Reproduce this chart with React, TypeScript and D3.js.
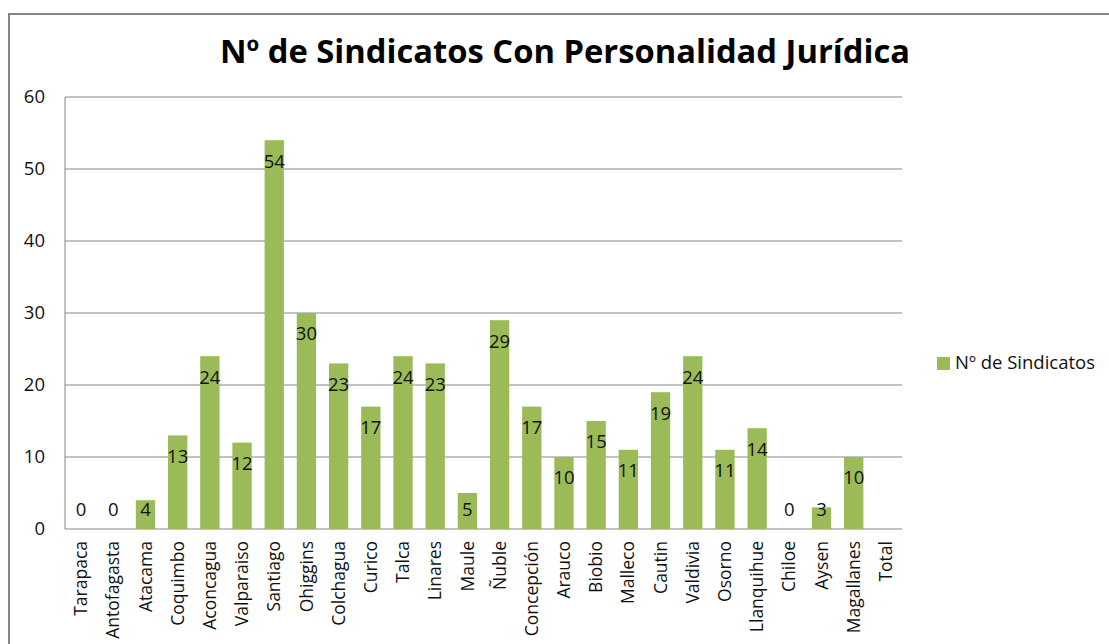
import React from "react";
import * as d3 from "d3";

const categories = [
  "Tarapaca", "Antofagasta", "Atacama", "Coquimbo", "Aconcagua", "Valparaiso",
  "Santiago", "Ohiggins", "Colchagua", "Curico", "Talca", "Linares", "Maule",
  "Ñuble", "Concepción", "Arauco", "Biobio", "Malleco", "Cautin", "Valdivia",
  "Osorno", "Llanquihue", "Chiloe", "Aysen", "Magallanes", "Total",
];
const values: (number | null)[] = [
  0, 0, 4, 13, 24, 12, 54, 30, 23, 17, 24, 23, 5, 29, 17, 10, 15, 11, 19, 24,
  11, 14, 0, 3, 10, null,
];
const yTicks = [0, 10, 20, 30, 40, 50, 60];
const title = "Nº de Sindicatos Con Personalidad Jurídica";
const seriesName = "Nº de Sindicatos";

const W = 1109;
const H = 644;
const plot = { left: 65, right: 902, top: 97, bottom: 529 };
const barColor = "#9BBB59";
const gridColor = "#868686";
const font = "'Open Sans', 'Noto Sans', sans-serif";

export default function App() {
  const x = d3
    .scaleBand<string>()
    .domain(categories)
    .range([plot.left, plot.right])
    .paddingInner(0.4)
    .paddingOuter(0.2);
  const y = d3.scaleLinear().domain([0, 60]).range([plot.bottom, plot.top]);

  return (
    <svg
      width={W}
      height={H}
      style={{ position: "absolute", left: 0, top: 0, background: "#fff" }}
    >
      <rect x={9} y={14} width={W + 10} height={H + 10} fill="#fff" stroke={gridColor} strokeWidth={2} />
      <text
        x={565}
        y={63}
        textAnchor="middle"
        fontFamily={font}
        fontWeight="bold"
        fontSize={32}
        textLength={690}
        lengthAdjust="spacingAndGlyphs"
        fill="#000"
      >
        {title}
      </text>
      {yTicks.map((t) => (
        <g key={t}>
          <line x1={plot.left} x2={plot.right} y1={y(t)} y2={y(t)} stroke={gridColor} strokeWidth={1} />
          <text
            x={45}
            y={y(t)}
            dy="0.35em"
            textAnchor="end"
            fontFamily={font}
            fontSize={18.5}
            fill="#111"
          >
            {t}
          </text>
        </g>
      ))}
      <line x1={plot.left} x2={plot.left} y1={plot.top} y2={plot.bottom} stroke={gridColor} strokeWidth={1} />
      {categories.map((c, i) => {
        const v = values[i];
        const bx = x(c)!;
        const bw = x.bandwidth();
        const cx = bx + bw / 2;
        return (
          <g key={c}>
            {v !== null && v > 0 && (
              <rect x={bx} y={y(v)} width={bw} height={plot.bottom - y(v)} fill={barColor} />
            )}
            {v !== null && (
              <text
                x={cx}
                y={Math.min(y(v) + 21, 510)}
                dy="0.35em"
                textAnchor="middle"
                fontFamily={font}
                fontSize={18.5}
                fill="#111"
              >
                {v}
              </text>
            )}
            <text
              transform={`translate(${cx},${541}) rotate(-90)`}
              dy="0.35em"
              textAnchor="end"
              fontFamily={font}
              fontSize={17.5}
              fill="#111"
            >
              {c}
            </text>
          </g>
        );
      })}
      <rect x={937} y={357} width={13} height={13} fill={barColor} />
      <text x={955} y={363} dy="0.35em" fontFamily={font} fontSize={18.5} fill="#111">
        {seriesName}
      </text>
    </svg>
  );
}
